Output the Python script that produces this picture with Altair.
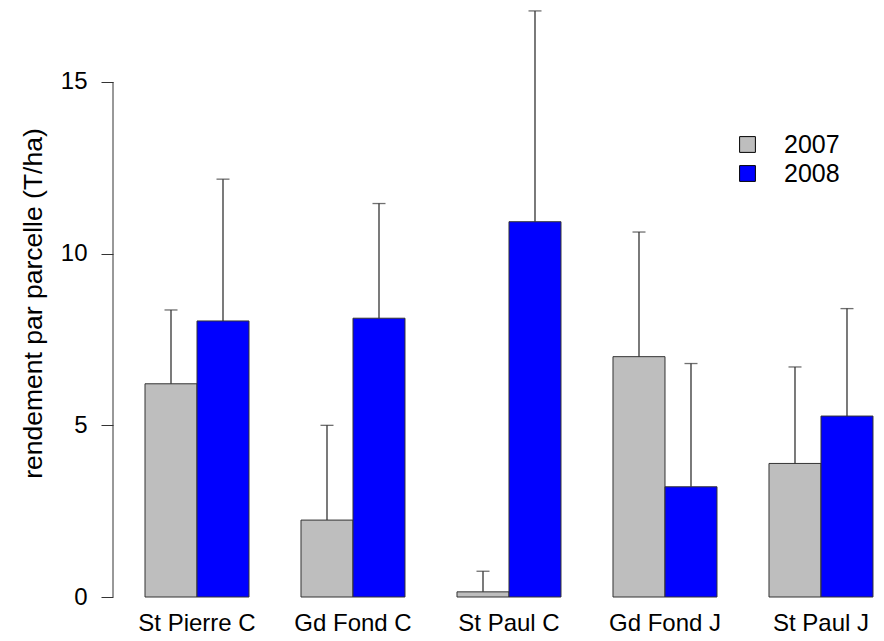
import altair as alt
import pandas as pd

sites = ["St Pierre C", "Gd Fond C", "St Paul C", "Gd Fond J", "St Paul J"]
years = ["2007", "2008"]
mean_2007 = [6.21, 2.24, 0.15, 7.00, 3.89]
mean_2008 = [8.04, 8.12, 10.93, 3.21, 5.27]
upper_2007 = [8.36, 5.00, 0.75, 10.63, 6.70]
upper_2008 = [12.17, 11.46, 17.07, 6.80, 8.40]
y_ticks = [0, 5, 10, 15]
colors = ["#BEBEBE", "#0000FF"]
y_title = "rendement par parcelle (T/ha)"

rows = []
for i, s in enumerate(sites):
    rows.append({"site": s, "year": years[0], "value": mean_2007[i], "upper": upper_2007[i]})
    rows.append({"site": s, "year": years[1], "value": mean_2008[i], "upper": upper_2008[i]})
df = pd.DataFrame(rows)
axis_df = pd.DataFrame({"lo": [min(y_ticks)], "hi": [max(y_ticks)]})

FONT = "Liberation Sans"
INK = "#333333"

x_enc = alt.X(
    "site:N",
    sort=sites,
    scale=alt.Scale(paddingInner=1 / 3, paddingOuter=0.109, align=0.941),
    axis=alt.Axis(
        title=None, domain=False, ticks=False, labelAngle=0,
        labelFont=FONT, labelFontSize=24, labelColor="black",
        labelPadding=14,
    ),
)
xo_enc = alt.XOffset("year:N", sort=years, scale=alt.Scale(paddingInner=0, paddingOuter=0))

y_scale = alt.Scale(domain=[0, 17.155], nice=False, zero=True)
y_axis = alt.Axis(
    values=y_ticks, domain=False, grid=False, tickSize=12, tickColor=INK,
    tickWidth=1, labelFont=FONT, labelFontSize=24, labelColor="black",
    labelPadding=14, title=y_title, titleFont=FONT, titleFontSize=26.5,
    titleFontWeight="normal", titleColor="black", titleX=-71.6, titleY=295,
    titleBaseline="alphabetic", titleAlign="center",
)

bars = alt.Chart(df).mark_bar(stroke=INK, strokeWidth=1).encode(
    x=x_enc,
    xOffset=xo_enc,
    y=alt.Y("value:Q", scale=y_scale, axis=y_axis),
    color=alt.Color(
        "year:N", sort=years,
        scale=alt.Scale(domain=years, range=colors),
        legend=alt.Legend(
            title=None, orient="none", legendX=622, legendY=124,
            symbolType="square", symbolSize=250, symbolStrokeColor="black",
            symbolStrokeWidth=1, symbolOpacity=1,
            labelFont=FONT, labelFontSize=25, labelColor="black",
            labelOffset=24, rowPadding=3, padding=0,
        ),
    ),
)

err = alt.Chart(df).mark_rule(color=INK, strokeWidth=1.3).encode(
    x=x_enc,
    xOffset=xo_enc,
    y=alt.Y("value:Q", scale=y_scale, axis=y_axis),
    y2="upper:Q",
)

caps = alt.Chart(df).mark_tick(color=INK, thickness=1.3, size=13, orient="horizontal").encode(
    x=x_enc,
    xOffset=xo_enc,
    y=alt.Y("upper:Q", scale=y_scale, axis=y_axis),
)

yline = alt.Chart(axis_df).mark_rule(color=INK, strokeWidth=1).encode(
    x=alt.value(0),
    y=alt.Y("lo:Q", scale=y_scale, axis=y_axis),
    y2="hi:Q",
)

chart = alt.layer(bars, err, caps, yline).properties(
    width=762,
    height=589,
    padding={"left": 105, "top": 0, "right": 0, "bottom": 37},
    autosize=alt.AutoSizeParams(type="none"),
).configure(background="white").configure_view(stroke=None)

chart.save("out.html", embed_options={"renderer": "svg", "actions": False})
